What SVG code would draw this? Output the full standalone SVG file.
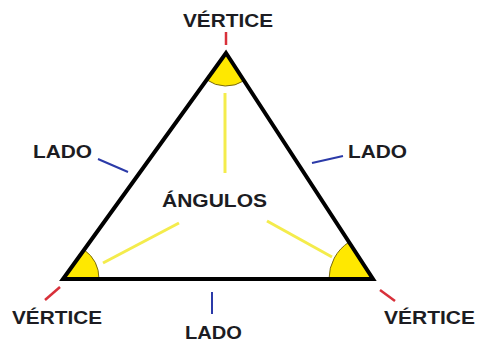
<svg xmlns="http://www.w3.org/2000/svg" width="478" height="345" viewBox="0 0 478 345">
<style>
.lbl{font-family:"Liberation Sans",Arial,sans-serif;font-weight:bold;font-size:18px;fill:#1c1c22;text-anchor:start}
.wedge{fill:#ffe800;stroke:#7a6a10;stroke-width:1}
.ray{stroke:#f4ec4c;stroke-width:3;fill:none}
.vt{stroke:#d8303a;stroke-width:2.5}
.sd{stroke:#2b3aa8;stroke-width:2}
</style>
<rect width="478" height="345" fill="#ffffff"/>
<g id="angles">
<path class="wedge" d="M226,53 L206.7,79.8 A33,33 0 0 0 244,80.7 Z"/>
<path class="wedge" d="M63,279 L99,279 A36,36 0 0 0 84.1,249.8 Z"/>
<path class="wedge" d="M373,279 L329,279 A44,44 0 0 1 349,242.1 Z"/>
</g>
<g id="connectors">
<line class="ray" x1="225" y1="93" x2="225" y2="173"/>
<line class="ray" x1="103" y1="263" x2="179" y2="223"/>
<line class="ray" x1="267" y1="221" x2="332" y2="257"/>
<line class="vt" x1="226" y1="32" x2="226" y2="45"/>
<line class="vt" x1="45" y1="300" x2="60" y2="287"/>
<line class="vt" x1="380" y1="290" x2="395" y2="301"/>
<line class="sd" x1="98" y1="159" x2="128" y2="172"/>
<line class="sd" x1="312" y1="163" x2="343" y2="156"/>
<line class="sd" x1="212" y1="292" x2="212" y2="314"/>
</g>
<g id="triangle">
<polygon points="226,53 373,279 63,279" fill="none" stroke="#000" stroke-width="4" stroke-linejoin="miter"/>
</g>
<g id="vertex-top"><text class="lbl" x="183" y="27" textLength="90" lengthAdjust="spacingAndGlyphs">VÉRTICE</text></g>
<g id="vertex-left"><text class="lbl" x="12" y="324" textLength="90" lengthAdjust="spacingAndGlyphs">VÉRTICE</text></g>
<g id="vertex-right"><text class="lbl" x="384" y="324" textLength="91" lengthAdjust="spacingAndGlyphs">VÉRTICE</text></g>
<g id="side-left"><text class="lbl" x="33" y="158" textLength="59" lengthAdjust="spacingAndGlyphs">LADO</text></g>
<g id="side-right"><text class="lbl" x="348" y="158" textLength="59" lengthAdjust="spacingAndGlyphs">LADO</text></g>
<g id="side-bottom"><text class="lbl" x="185" y="339" textLength="57" lengthAdjust="spacingAndGlyphs">LADO</text></g>
<g id="angles-label"><text class="lbl" x="162" y="207" textLength="105" lengthAdjust="spacingAndGlyphs">ÁNGULOS</text></g>
</svg>
